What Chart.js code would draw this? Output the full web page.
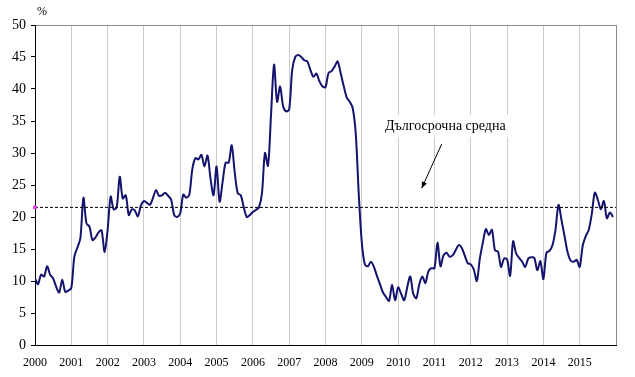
<!DOCTYPE html>
<html>
<head>
<meta charset="utf-8">
<script src="https://cdn.jsdelivr.net/npm/chart.js@4.4.1/dist/chart.umd.min.js"></script>
<style>
  html, body { margin: 0; padding: 0; background: #ffffff; }
  #wrap { position: relative; width: 635px; height: 377px; }
  canvas { display: block; }
</style>
</head>
<body>
<div id="wrap"><canvas id="c" width="635" height="377"></canvas></div>
<script>
// ---- data (monthly, Jan 2000 – Dec 2015) ----
const startYear = 2000;
const endYear = 2016;
const yearTicks = [2000, 2001, 2002, 2003, 2004, 2005, 2006, 2007, 2008, 2009, 2010, 2011, 2012, 2013, 2014, 2015];
const yTicks = [0, 5, 10, 15, 20, 25, 30, 35, 40, 45, 50];
const values2000 = [10.4, 9.5, 11.0, 10.7, 12.3, 11.0, 10.4, 9.1, 8.2, 10.2, 8.3, 8.5];
const values2001 = [8.9, 13.8, 15.2, 16.7, 23.0, 19.0, 18.5, 16.4, 16.8, 17.6, 17.9, 14.5];
const values2002 = [18.0, 23.2, 21.2, 21.5, 26.3, 22.9, 23.4, 20.3, 21.2, 21.0, 20.1, 21.8];
const values2003 = [22.5, 22.2, 21.9, 23.0, 24.2, 23.3, 23.4, 23.8, 23.3, 22.7, 20.3, 20.0];
const values2004 = [20.6, 23.5, 23.0, 23.5, 27.5, 29.2, 29.0, 29.7, 27.9, 29.6, 26.0, 23.4];
const values2005 = [27.9, 22.4, 25.5, 28.5, 28.5, 31.2, 27.0, 23.7, 23.4, 21.5, 20.0, 20.3];
const values2006 = [20.8, 21.1, 21.5, 23.7, 30.0, 28.0, 36.0, 43.8, 38.0, 40.4, 37.3, 36.5];
const values2007 = [36.8, 43.0, 45.0, 45.3, 45.0, 44.5, 44.3, 43.0, 41.9, 42.4, 41.2, 40.4];
const values2008 = [40.3, 42.5, 42.8, 43.5, 44.3, 42.5, 40.5, 38.7, 38.0, 37.0, 33.0, 23.5];
const values2009 = [16.0, 12.6, 12.3, 13.0, 12.2, 10.8, 9.5, 8.2, 7.5, 6.9, 9.4, 7.0];
const values2010 = [9.0, 8.0, 7.0, 9.0, 10.7, 8.0, 7.3, 9.5, 10.7, 9.7, 11.5, 12.0];
const values2011 = [12.0, 16.0, 12.3, 14.0, 14.4, 13.8, 14.0, 14.8, 15.6, 15.2, 14.0, 12.8];
const values2012 = [12.6, 11.8, 10.0, 13.5, 16.0, 18.1, 17.2, 18.0, 14.8, 14.6, 12.2, 13.5];
const values2013 = [13.4, 10.8, 16.2, 14.3, 13.6, 13.0, 12.2, 13.5, 13.7, 13.6, 11.7, 13.1];
const values2014 = [10.3, 14.4, 14.7, 15.6, 18.0, 21.9, 19.5, 17.0, 14.5, 13.2, 13.0, 13.3];
const values2015 = [12.2, 15.5, 17.0, 18.0, 20.5, 23.8, 22.7, 21.2, 22.5, 19.8, 20.7, 20.0];
const longTermAverage = 21.5;
const annotationText = 'Дългосрочна средна';
const annotationPos = { x: 2011.3, y: 34.2 };
const arrowFrom = { x: 2011.2, y: 31.4 };
const arrowTo = { x: 2010.65, y: 24.5 };
const unitLabel = '%';

const allValues = [].concat(values2000, values2001, values2002, values2003, values2004,
  values2005, values2006, values2007, values2008, values2009, values2010, values2011,
  values2012, values2013, values2014, values2015);
const seriesPoints = allValues.map((v, i) => ({ x: startYear + i / 12, y: v }));
const avgPoints = [{ x: startYear, y: longTermAverage }, { x: endYear, y: longTermAverage }];

const FONT = "'Liberation Serif', 'Times New Roman', serif";

const annotationPlugin = {
  id: 'annot',
  afterDraw(chart) {
    const { ctx, scales: { x, y } } = chart;
    ctx.save();
    // unit label
    ctx.font = '12px ' + FONT;
    ctx.fillStyle = '#000';
    ctx.textAlign = 'center';
    ctx.textBaseline = 'middle';
    ctx.fillText(unitLabel, x.getPixelForValue(startYear) + 7, y.getPixelForValue(50) - 13);
    // annotation text with white box
    const tx = x.getPixelForValue(annotationPos.x);
    const ty = y.getPixelForValue(annotationPos.y);
    ctx.font = '14px ' + FONT;
    const w = ctx.measureText(annotationText).width;
    ctx.fillStyle = '#fff';
    ctx.fillRect(tx - w / 2 - 4, ty - 11, w + 8, 22);
    ctx.fillStyle = '#000';
    ctx.fillText(annotationText, tx, ty);
    // arrow
    const x1 = x.getPixelForValue(arrowFrom.x), y1 = y.getPixelForValue(arrowFrom.y);
    const x2 = x.getPixelForValue(arrowTo.x), y2 = y.getPixelForValue(arrowTo.y);
    ctx.strokeStyle = '#000';
    ctx.lineWidth = 1;
    ctx.beginPath();
    ctx.moveTo(x1, y1);
    ctx.lineTo(x2, y2);
    ctx.stroke();
    const ang = Math.atan2(y2 - y1, x2 - x1);
    const hl = 7, hw = 0.4;
    ctx.beginPath();
    ctx.moveTo(x2, y2);
    ctx.lineTo(x2 - hl * Math.cos(ang - hw), y2 - hl * Math.sin(ang - hw));
    ctx.lineTo(x2 - hl * Math.cos(ang + hw), y2 - hl * Math.sin(ang + hw));
    ctx.closePath();
    ctx.fillStyle = '#000';
    ctx.fill();
    ctx.restore();
  }
};

new Chart(document.getElementById('c'), {
  type: 'line',
  data: {
    datasets: [
      {
        data: seriesPoints,
        borderColor: '#14146e',
        borderWidth: 2,
        pointRadius: 0,
        tension: 0.3,
        fill: false,
        order: 1
      },
      {
        data: avgPoints,
        borderColor: '#000',
        borderWidth: 1,
        borderDash: [3, 2],
        pointRadius: [2, 0],
        pointStyle: 'rect',
        pointBackgroundColor: '#e040e0',
        pointBorderColor: '#e040e0',
        pointBorderWidth: 1,
        clip: false,
        fill: false,
        order: 0
      }
    ]
  },
  options: {
    responsive: false,
    animation: false,
    events: [],
    layout: { padding: { left: 0, right: 19, top: 25, bottom: 0 } },
    plugins: { legend: { display: false }, tooltip: { enabled: false } },
    scales: {
      x: {
        type: 'linear',
        min: startYear,
        max: endYear,
        afterBuildTicks(scale) {
          scale.ticks = yearTicks.concat([endYear]).map(v => ({ value: v }));
        },
        afterFit(scale) { scale.height = 32; },
        ticks: {
          autoSkip: false,
          maxRotation: 0,
          padding: 11,
          color: '#000',
          font: { family: FONT, size: 12 },
          callback: (v) => (yearTicks.includes(v) ? String(v) : '')
        },
        grid: {
          drawTicks: false,
          color: (c) => (c.tick && c.tick.value === startYear ? 'rgba(0,0,0,0)' :
            (c.tick && c.tick.value === endYear ? '#8a8a8a' : '#cccccc')),
          lineWidth: 1
        },
        border: { display: true, color: '#000', width: 1 }
      },
      y: {
        type: 'linear',
        min: 0,
        max: 50,
        afterBuildTicks(scale) {
          scale.ticks = yTicks.map(v => ({ value: v }));
        },
        afterFit(scale) { scale.width = 35; },
        ticks: {
          padding: 5,
          color: '#000',
          font: { family: FONT, size: 14 }
        },
        grid: {
          drawOnChartArea: true,
          tickLength: 4,
          tickColor: '#000',
          color: (c) => (c.tick && c.tick.value === 50 ? '#8a8a8a' : 'rgba(0,0,0,0)')
        },
        border: { display: true, color: '#000', width: 1 }
      }
    }
  },
  plugins: [annotationPlugin]
});
</script>
</body>
</html>
